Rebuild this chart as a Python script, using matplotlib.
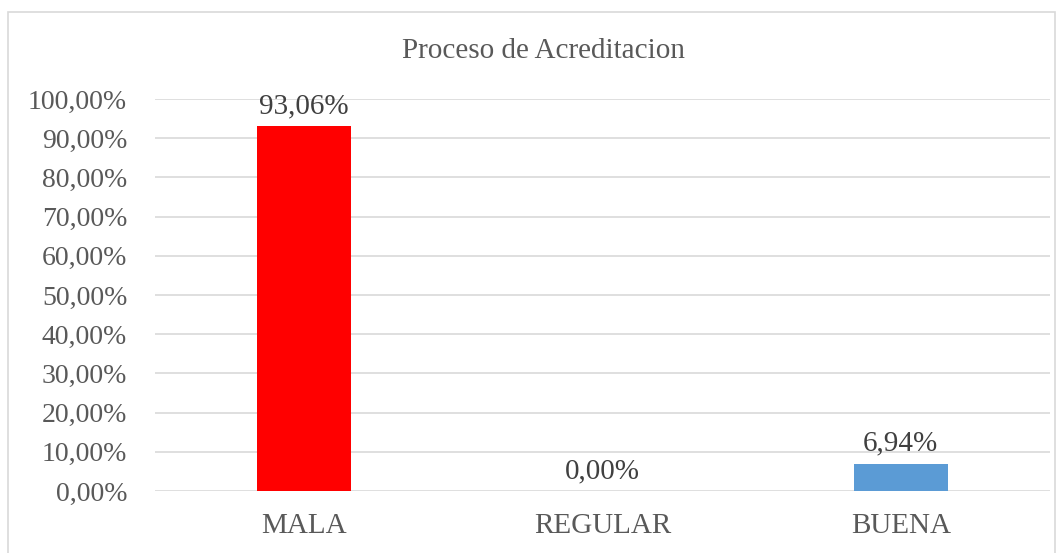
import matplotlib.pyplot as plt
from matplotlib.patches import Rectangle
from matplotlib.ticker import FuncFormatter

# Datos
categorias = ['MALA', 'REGULAR', 'BUENA']
porcentajes = [0.9306, 0.0, 0.0694]
colores = ['#FF0000', '#5B9BD5', '#5B9BD5']
titulo = 'Proceso de Acreditacion'

plt.rcParams['font.family'] = ['Liberation Serif', 'DejaVu Serif']

fig = plt.figure(figsize=(10.63, 5.53), dpi=100)
ax = fig.add_axes([0.1458, 0.1121, 0.842, 0.709])

x = range(len(categorias))
barras = ax.bar(x, porcentajes, width=0.315, color=colores, zorder=3)

# Etiquetas de datos
for xi, v in zip(x, porcentajes):
    ax.annotate(f'{v * 100:.2f}%'.replace('.', ','), (xi, v),
                xytext=(0, 5), textcoords='offset points',
                ha='center', va='bottom', fontsize=21, color='#404040')

ax.set_xlim(-0.5, len(categorias) - 0.5)
ax.set_ylim(0, 1)
ax.set_yticks([i / 10 for i in range(11)])
ax.yaxis.set_major_formatter(FuncFormatter(lambda v, p: f'{v * 100:.2f}%'.replace('.', ',')))
ax.set_xticks(list(x))
ax.set_xticklabels(categorias)

ax.tick_params(axis='y', length=0, labelsize=20, colors='#595959', pad=20)
ax.tick_params(axis='x', length=0, labelsize=21, colors='#595959', pad=16)

ax.grid(axis='y', color='#D9D9D9', linewidth=1.2, zorder=0)
for s in ax.spines.values():
    s.set_visible(False)

# Borde del gráfico
fig.patches.append(Rectangle((0.0075, -0.01), 0.985, 0.988, transform=fig.transFigure,
                             fill=False, edgecolor='#D9D9D9', linewidth=1.2))

fig.text(0.511, 0.907, titulo, ha='center', va='center', fontsize=21, color='#595959')

plt.savefig('out.png', dpi=100)
